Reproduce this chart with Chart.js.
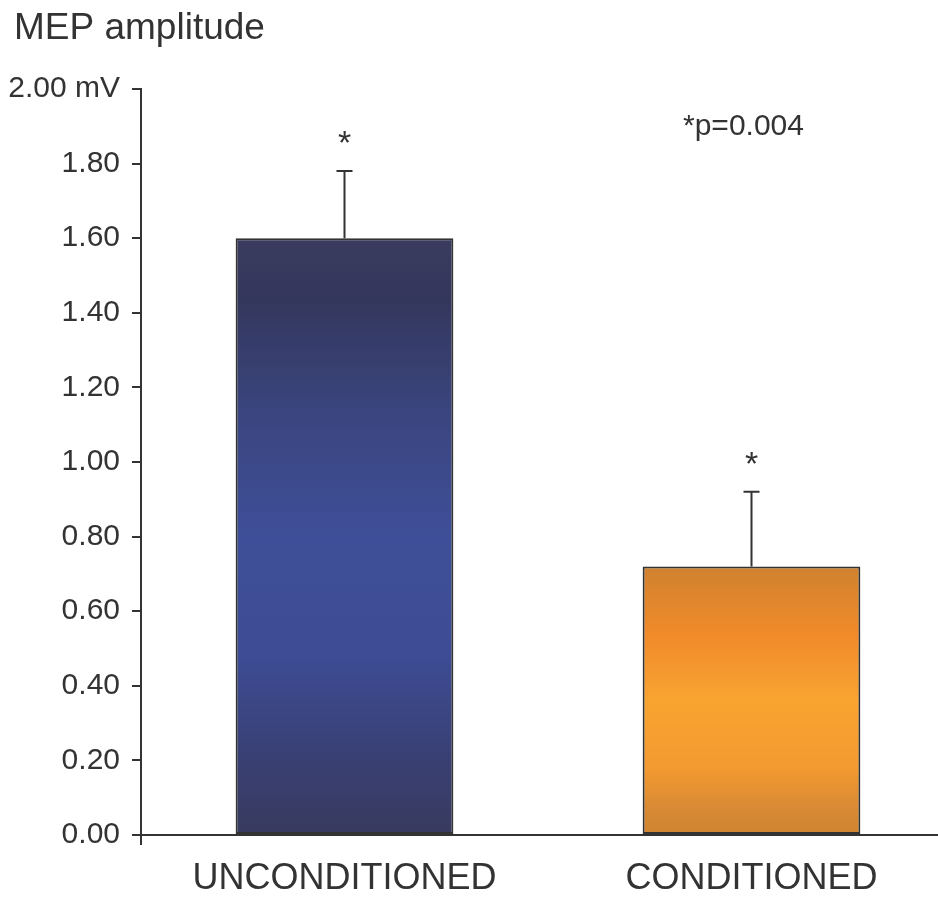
<!DOCTYPE html>
<html>
<head>
<meta charset="utf-8">
<script src="https://cdn.jsdelivr.net/npm/chart.js@4/dist/chart.umd.min.js"></script>
<style>
  html, body { margin: 0; padding: 0; background: #fff; overflow: hidden; }
  #wrap { width: 955px; height: 900px; }
</style>
</head>
<body>
<div id="wrap"><canvas id="chart" width="955" height="900"></canvas></div>
<script>
const categories = ['UNCONDITIONED', 'CONDITIONED'];
const amplitude = [1.60, 0.72];
const errorUp = [0.18, 0.20];
const significance = ['*', '*'];
const tickLabels = ['0.00', '0.20', '0.40', '0.60', '0.80', '1.00', '1.20', '1.40', '1.60', '1.80', '2.00 mV'];

const barStops = [
    [[0, '#393c5e'], [0.1, '#34375c'], [0.3, '#3b4680'], [0.5, '#3e4e98'], [0.7, '#3d4c94'], [0.88, '#393f72'], [1, '#383b5e']],
    [[0, '#d0822f'], [0.25, '#f08a2a'], [0.5, '#f9a431'], [0.75, '#f39a30'], [0.9, '#d88a34'], [1, '#cf8431']]
];

const textColor = '#333';
const font = 'Liberation Sans, Arial, sans-serif';

function barGradient(context) {
    const chart = context.chart;
    const area = chart.chartArea;
    if (!area) return '#3e4e98';
    const y = chart.scales.y;
    const top = y.getPixelForValue(amplitude[context.dataIndex]);
    const bottom = y.getPixelForValue(0);
    const g = chart.ctx.createLinearGradient(0, top, 0, bottom);
    barStops[context.dataIndex].forEach(s => g.addColorStop(s[0], s[1]));
    return g;
}

// error bars, asterisks and the free-standing texts
const annotations = {
    id: 'annotations',
    afterDatasetsDraw(chart) {
        const ctx = chart.ctx;
        const x = chart.scales.x;
        const y = chart.scales.y;
        ctx.save();
        ctx.strokeStyle = textColor;
        ctx.fillStyle = textColor;
        ctx.lineWidth = 2;
        amplitude.forEach((v, i) => {
            const px = x.getPixelForValue(i);
            const top = y.getPixelForValue(v);
            const err = y.getPixelForValue(v + errorUp[i]);
            ctx.beginPath();
            ctx.moveTo(px, top);
            ctx.lineTo(px, err);
            ctx.moveTo(px - 8, err);
            ctx.lineTo(px + 8, err);
            ctx.stroke();
            ctx.font = '34px ' + font;
            ctx.textAlign = 'center';
            ctx.textBaseline = 'middle';
            ctx.fillText(significance[i], px, err - 26);
        });
        // y axis runs a little below zero
        ctx.lineWidth = 2;
        ctx.beginPath();
        ctx.moveTo(chart.chartArea.left, chart.chartArea.bottom);
        ctx.lineTo(chart.chartArea.left, chart.chartArea.bottom + 10);
        ctx.stroke();

        ctx.textAlign = 'left';
        ctx.textBaseline = 'alphabetic';
        ctx.font = '37px ' + font;
        ctx.fillText('MEP amplitude', 14, 39);
        ctx.font = '30px ' + font;
        ctx.fillText('*p=0.004', 683, 135);
        ctx.restore();
    }
};

new Chart(document.getElementById('chart'), {
    type: 'bar',
    data: {
        labels: categories,
        datasets: [{
            data: amplitude,
            backgroundColor: barGradient,
            borderColor: '#333',
            borderWidth: 2,
            borderSkipped: false,
            categoryPercentage: 1,
            barPercentage: 0.535
        }]
    },
    options: {
        responsive: false,
        animation: false,
        layout: { padding: { top: 89, left: 0, right: 0, bottom: 0 } },
        plugins: {
            legend: { display: false },
            tooltip: { enabled: false }
        },
        scales: {
            x: {
                grid: { display: false },
                border: { display: true, color: textColor, width: 2 },
                ticks: { color: textColor, font: { family: font, size: 36 }, padding: 14 },
                afterFit(scale) { scale.height = 65; }
            },
            y: {
                min: 0,
                max: 2,
                grid: { drawOnChartArea: false, drawTicks: true, tickLength: 9, color: textColor, lineWidth: 2 },
                border: { display: true, color: textColor, width: 2 },
                ticks: {
                    stepSize: 0.2,
                    color: textColor,
                    padding: 12,
                    font: { family: font, size: 30 },
                    callback: (v, i) => tickLabels[i]
                },
                afterFit(scale) { scale.width = 141; }
            }
        }
    },
    plugins: [annotations]
});
</script>
</body>
</html>
